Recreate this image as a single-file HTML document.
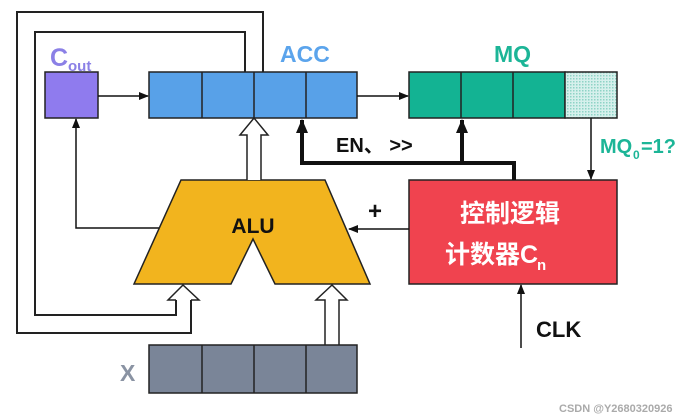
<!DOCTYPE html>
<html><head><meta charset="utf-8"><style>
html,body{margin:0;padding:0;background:#fff;width:697px;height:420px;overflow:hidden}
text{font-family:"Liberation Sans","Noto Sans CJK SC",sans-serif;font-weight:bold}
</style></head><body>
<svg width="697" height="420" viewBox="0 0 697 420" xmlns="http://www.w3.org/2000/svg">
<defs>
<marker id="a" markerWidth="10" markerHeight="10" refX="9" refY="5" orient="auto" markerUnits="userSpaceOnUse"><path d="M0,1 L10,5 L0,9 Z" fill="#111"/></marker>
<marker id="b" markerWidth="14" markerHeight="14" refX="13" refY="7" orient="auto" markerUnits="userSpaceOnUse"><path d="M0,1 L14,7 L0,13 Z" fill="#111"/></marker>
<pattern id="dots" width="3" height="3" patternUnits="userSpaceOnUse"><rect width="3" height="3" fill="#d6f0ec"/><rect width="1.5" height="1.5" fill="#8fd3c6"/></pattern>
</defs>
<g fill="none" stroke="#222" stroke-width="2">
<polyline points="263,72 263,12 17,12 17,333 191,333 191,300"/>
<polyline points="245,72 245,32 35,32 35,315 176,315 176,300"/>
</g>
<rect x="45" y="72" width="53" height="46" fill="#8f7bee" stroke="#222" stroke-width="1.5"/>
<text x="50" y="66" font-size="25" fill="#8b80e6">C</text>
<text x="68" y="71" font-size="15" fill="#8b80e6">out</text>
<rect x="149" y="72" width="208" height="46" fill="#58a1e8" stroke="#222" stroke-width="1.5"/>
<g stroke="#222" stroke-width="1.5"><line x1="202" y1="72" x2="202" y2="118"/><line x1="254" y1="72" x2="254" y2="118"/><line x1="306" y1="72" x2="306" y2="118"/></g>
<text x="280" y="62" font-size="23" fill="#5ba4ec">ACC</text>
<rect x="409" y="72" width="156" height="46" fill="#13b393" stroke="#222" stroke-width="1.5"/>
<rect x="565" y="72" width="52" height="46" fill="url(#dots)" stroke="#222" stroke-width="1.5"/>
<g stroke="#222" stroke-width="1.5"><line x1="461" y1="72" x2="461" y2="118"/><line x1="513" y1="72" x2="513" y2="118"/></g>
<text x="494" y="62" font-size="23" fill="#1cb597">MQ</text>
<line x1="98" y1="96" x2="148" y2="96" stroke="#111" stroke-width="1.5" marker-end="url(#a)"/>
<line x1="357" y1="96" x2="408" y2="96" stroke="#111" stroke-width="1.5" marker-end="url(#a)"/>
<polyline points="160,228 76,228 76,119" fill="none" stroke="#111" stroke-width="1.5" marker-end="url(#a)"/>
<path d="M181,180 L325,180 L370,284 L275,284 L253,239 L231,284 L134,284 Z" fill="#f2b41e" stroke="#222" stroke-width="1.5"/>
<text x="253" y="233" font-size="21" fill="#111" text-anchor="middle">ALU</text>
<path d="M247,180 L247,135 L240,135 L254,118 L268,135 L261,135 L261,180" fill="#fff" stroke="#222" stroke-width="1.5"/>
<path d="M176,300 L168,300 L183,285 L199,300 L191,300" fill="#fff" stroke="#222" stroke-width="1.5"/>
<path d="M325,345 L325,300 L316,300 L332,285 L347,300 L339,300 L339,345" fill="#fff" stroke="#222" stroke-width="1.5"/>
<rect x="149" y="345" width="208" height="48" fill="#7a8598" stroke="#222" stroke-width="1.5"/>
<g stroke="#222" stroke-width="1.5"><line x1="202" y1="345" x2="202" y2="393"/><line x1="254" y1="345" x2="254" y2="393"/><line x1="306" y1="345" x2="306" y2="393"/></g>
<text x="120" y="381" font-size="23" fill="#8a93a3">X</text>
<rect x="409" y="180" width="208" height="104" fill="#f0434f" stroke="#222" stroke-width="1.5"/>
<text x="510" y="222" font-size="25" fill="#fff" text-anchor="middle">控制逻辑</text>
<text x="445" y="263" font-size="25" fill="#fff">计数器C</text>
<text x="537" y="270" font-size="15" fill="#fff">n</text>
<polyline points="514,180 514,163 302,163 302,120" fill="none" stroke="#111" stroke-width="4" marker-end="url(#b)"/>
<line x1="462" y1="163" x2="462" y2="120" stroke="#111" stroke-width="4" marker-end="url(#b)"/>
<text x="336" y="152" font-size="20" fill="#111">EN、 &gt;&gt;</text>
<line x1="591" y1="118" x2="591" y2="179" stroke="#111" stroke-width="1.5" marker-end="url(#a)"/>
<text x="600" y="153" font-size="20" fill="#1cb597">MQ</text>
<text x="633" y="159" font-size="12" fill="#1cb597">0</text>
<text x="641" y="153" font-size="20" fill="#1cb597">=1?</text>
<line x1="409" y1="229" x2="349" y2="229" stroke="#111" stroke-width="1.5" marker-end="url(#a)"/>
<text x="368" y="219" font-size="24" fill="#111" font-weight="normal">+</text>
<line x1="521" y1="348" x2="521" y2="285" stroke="#111" stroke-width="1.5" marker-end="url(#a)"/>
<text x="536" y="337" font-size="22" fill="#111">CLK</text>
<text x="559" y="412" font-size="11" fill="#aaa" font-weight="normal">CSDN @Y2680320926</text>
</svg>
</body></html>
